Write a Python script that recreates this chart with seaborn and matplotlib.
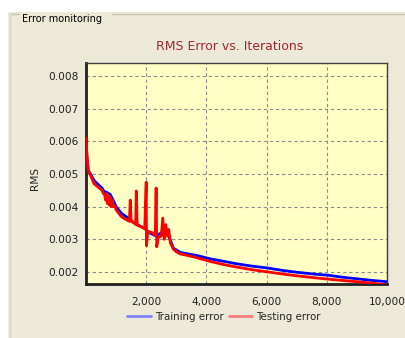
import numpy as np
import pandas as pd
import seaborn as sns
import matplotlib.pyplot as plt
from matplotlib.lines import Line2D
from matplotlib.patches import Rectangle
from matplotlib.ticker import MultipleLocator, FuncFormatter

# Training error (RMS)
train_iter = [0, 40, 80, 130, 270, 400, 530, 600, 700, 800, 900, 1000, 1170, 1400,
              1600, 1800, 1930, 2100, 2330, 2500, 2650, 2750, 2900, 3130, 3400, 3700,
              4130, 4600, 5000, 5500, 6030, 6500, 7000, 7500, 8030, 8500, 9000, 9500, 10000]
train_rms = [0.0060, 0.0054, 0.0051, 0.00503, 0.0048, 0.00468, 0.00457, 0.00447, 0.00443,
             0.00438, 0.0042, 0.0040, 0.0038, 0.00365, 0.0035, 0.0034, 0.00335, 0.0032,
             0.0031, 0.0032, 0.0033, 0.0031, 0.00273, 0.0026, 0.00255, 0.0025, 0.0024,
             0.00232, 0.00225, 0.00218, 0.00212, 0.00205, 0.00199, 0.00194, 0.0019,
             0.00184, 0.00179, 0.00174, 0.0017]

# Testing error (RMS), with the spikes and the noisy band
test_iter = [0, 30, 70, 130, 270, 400, 530, 580, 620, 650, 680, 710, 740, 770, 800, 830,
             870, 900, 950, 1000, 1170, 1300, 1440, 1470, 1500, 1600, 1650, 1670, 1700,
             1800, 1950, 2000, 2010, 2050, 2200, 2300, 2330, 2350, 2400, 2500, 2550, 2600,
             2650, 2700, 2750, 2800, 2900, 3000, 3130, 3400, 3700, 4130, 4600, 5000, 5500,
             6030, 6500, 7000, 7500, 8030, 8500, 9000, 9470, 10000]
test_rms = [0.0061, 0.0056, 0.0051, 0.0050, 0.0047, 0.00460, 0.00450, 0.0044, 0.00436,
            0.0042, 0.0044, 0.0041, 0.00435, 0.00405, 0.0043, 0.0040, 0.0042, 0.0040,
            0.00405, 0.0039, 0.0037, 0.00362, 0.00355, 0.0042, 0.00355, 0.0035, 0.00345,
            0.00448, 0.00343, 0.0034, 0.00332, 0.00475, 0.0028, 0.00325, 0.0032, 0.00312,
            0.00457, 0.00277, 0.00305, 0.0031, 0.00365, 0.0030, 0.00345, 0.0031, 0.0033,
            0.0029, 0.0027, 0.00262, 0.00255, 0.0025, 0.00243, 0.00232, 0.00222, 0.00215,
            0.00207, 0.0020, 0.00194, 0.00188, 0.00183, 0.00178, 0.00174, 0.0017, 0.00166,
            0.0016]

xticks = [2000, 4000, 6000, 8000, 10000]
yticks = [0.002, 0.003, 0.004, 0.005, 0.006, 0.007, 0.008]

train_df = pd.DataFrame({'iteration': train_iter, 'rms': train_rms})
test_df = pd.DataFrame({'iteration': test_iter, 'rms': test_rms})

sns.set_style("white")
plt.rcParams['font.family'] = ['DejaVu Sans']

W, H = 406, 338
fig = plt.figure(figsize=(W / 100, H / 100), dpi=100)
fig.patch.set_facecolor('white')

# grey panel and group box (behind the axes)
fig.patches.append(Rectangle((8 / W, 0), 1 - 8 / W, 1 - 12 / H, transform=fig.transFigure,
                             facecolor='#ECE9D8', edgecolor='none', zorder=-10))
fig.add_artist(Line2D([10 / W, 19 / W], [1 - 14 / H] * 2, color='#C8C4B4', lw=1, zorder=-5))
fig.add_artist(Line2D([112 / W, 1], [1 - 14 / H] * 2, color='#C8C4B4', lw=1, zorder=-5))
fig.add_artist(Line2D([10 / W, 10 / W], [0, 1 - 14 / H], color='#D8D4C4', lw=1, zorder=-5))
fig.text(22 / W, 1 - 19 / H, 'Error monitoring', fontsize=7, va='center', ha='left', color='black')

ax = fig.add_axes([86 / W, 1 - 284 / H, (387 - 86) / W, (284 - 63) / H])
ax.set_facecolor('#FFFFC6')

sns.lineplot(data=train_df, x='iteration', y='rms', ax=ax, color='#0000FF', lw=2.0,
             estimator=None, zorder=3)
sns.lineplot(data=test_df, x='iteration', y='rms', ax=ax, color='#FF0000', lw=2.0,
             estimator=None, zorder=4)

ax.set_xlim(0, 10000)
ax.set_ylim(0.00163, 0.0084)
ax.set_xticks(xticks)
ax.set_yticks(yticks)
ax.xaxis.set_minor_locator(MultipleLocator(500))
ax.xaxis.set_major_formatter(FuncFormatter(lambda v, p: f'{int(v):,}'))
ax.yaxis.set_major_formatter(FuncFormatter(lambda v, p: f'{v:.3f}'))
ax.tick_params(axis='both', which='major', direction='out', length=4, width=0.8,
               color='#707070', labelsize=7.6, labelcolor='#202020', pad=1.5)
ax.tick_params(axis='x', which='minor', direction='out', length=2.5, width=0.8, color='#707070')
ax.tick_params(axis='x', which='major', pad=5)
ax.set_xlabel('')
ax.set_ylabel('')

ax.grid(True, which='major', color='#8C8C8C', linestyle=(0, (3, 2.5)), lw=0.8)
for s in ['left', 'bottom']:
    ax.spines[s].set_color('#202020')
    ax.spines[s].set_linewidth(2)
ax.spines['top'].set_color('#404040')
ax.spines['top'].set_linewidth(1)
ax.spines['right'].set_color('#404040')
ax.spines['right'].set_linewidth(1)
ax.spines['right'].set_linestyle((0, (2, 1)))

fig.text(230 / W, 1 - 47 / H, 'RMS Error vs. Iterations', fontsize=9, color='#A0282D',
         ha='center', va='center')
fig.text(35 / W, 1 - 178 / H, 'RMS', fontsize=7.6, rotation=90, ha='center', va='center')

handles = [Line2D([], [], color='#8080FF', lw=2), Line2D([], [], color='#FF7A7A', lw=2)]
fig.legend(handles, ['Training error', 'Testing error'], loc='center',
           bbox_to_anchor=(224 / W, 1 - 317 / H), ncol=2, frameon=False, fontsize=7.4,
           handlelength=2.3, handletextpad=0.4, columnspacing=0.5)

fig.savefig('out.png', dpi=100)
